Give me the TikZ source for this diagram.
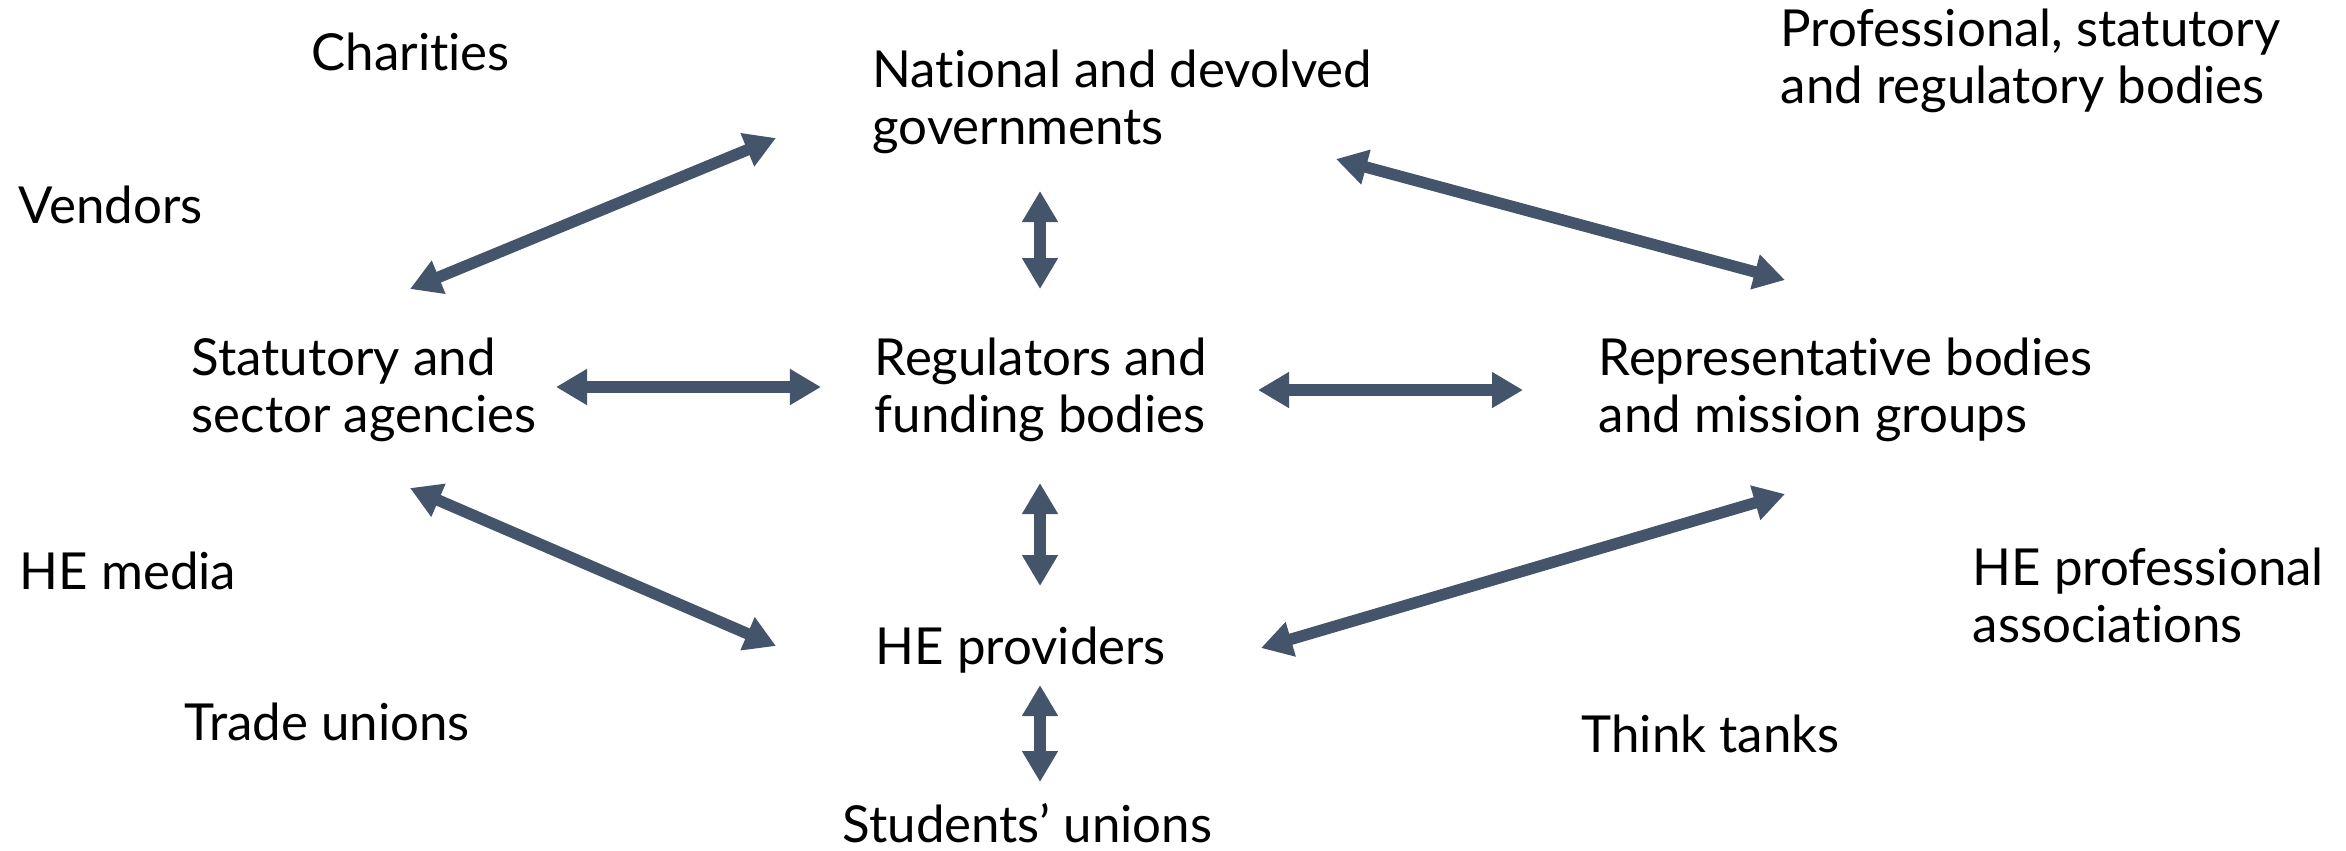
\documentclass[tikz,border=0pt]{standalone}
\usepackage{fontspec}
\setmainfont{Lato}[Ligatures=NoCommon]
\usetikzlibrary{arrows.meta}
\definecolor{arrowc}{HTML}{44546A}
\begin{document}
\begin{tikzpicture}[x=0.01cm,y=-0.01cm,
  lbl/.style={anchor=base west,inner sep=0pt,align=left,font=\fontsize{14.5pt}{16.2pt}\selectfont,text=black},
  link/.style={draw=arrowc,line width=0.115cm,{Triangle[length=0.31cm,width=0.34cm]}-{Triangle[length=0.31cm,width=0.34cm]}}]
\useasboundingbox (0,0) rectangle (2346,850);
% labels (base anchor = baseline of last line)
\node[lbl] (charities) at (311,70) {Charities};
\node[lbl] (vendors) at (18,223) {Vendors};
\node[lbl] (media) at (19,589) {HE media};
\node[lbl] (trade) at (184,740) {Trade unions};
\node[lbl] (stat) at (191,432) {Statutory and\\sector agencies};
\node[lbl] (gov) at (872,144) {National and devolved\\governments};
\node[lbl] (reg) at (874,432) {Regulators and\\funding bodies};
\node[lbl] (prov) at (875,664) {HE providers};
\node[lbl] (stud) at (842,842) {Students’ unions};
\node[lbl] (psrb) at (1780,103) {Professional, statutory\\and regulatory bodies};
\node[lbl] (rep) at (1598,432) {Representative bodies\\and mission groups};
\node[lbl] (assoc) at (1972,642) {HE professional\\associations};
\node[lbl] (think) at (1581,752) {Think tanks};
% connector ends
\coordinate (statNE) at (410,289);
\coordinate (govSW) at (776,138);
\coordinate (govS) at (1040,191);
\coordinate (regN) at (1040,289);
\coordinate (govE) at (1336,159);
\coordinate (repNW) at (1785,280);
\coordinate (statE) at (556,387);
\coordinate (regW) at (821,387);
\coordinate (regE) at (1258,390);
\coordinate (repW) at (1523,390);
\coordinate (regS) at (1040,483);
\coordinate (provN) at (1040,586);
\coordinate (statSE) at (410,488);
\coordinate (provW) at (776,646);
\coordinate (provE) at (1261,648);
\coordinate (repSW) at (1785,494);
\coordinate (provS) at (1040,685);
\coordinate (studN) at (1040,782);
% connectors
\draw[link] (statNE) -- (govSW);
\draw[link] (govS) -- (regN);
\draw[link] (govE) -- (repNW);
\draw[link] (statE) -- (regW);
\draw[link] (regE) -- (repW);
\draw[link] (regS) -- (provN);
\draw[link] (statSE) -- (provW);
\draw[link] (provE) -- (repSW);
\draw[link] (provS) -- (studN);
\end{tikzpicture}
\end{document}
